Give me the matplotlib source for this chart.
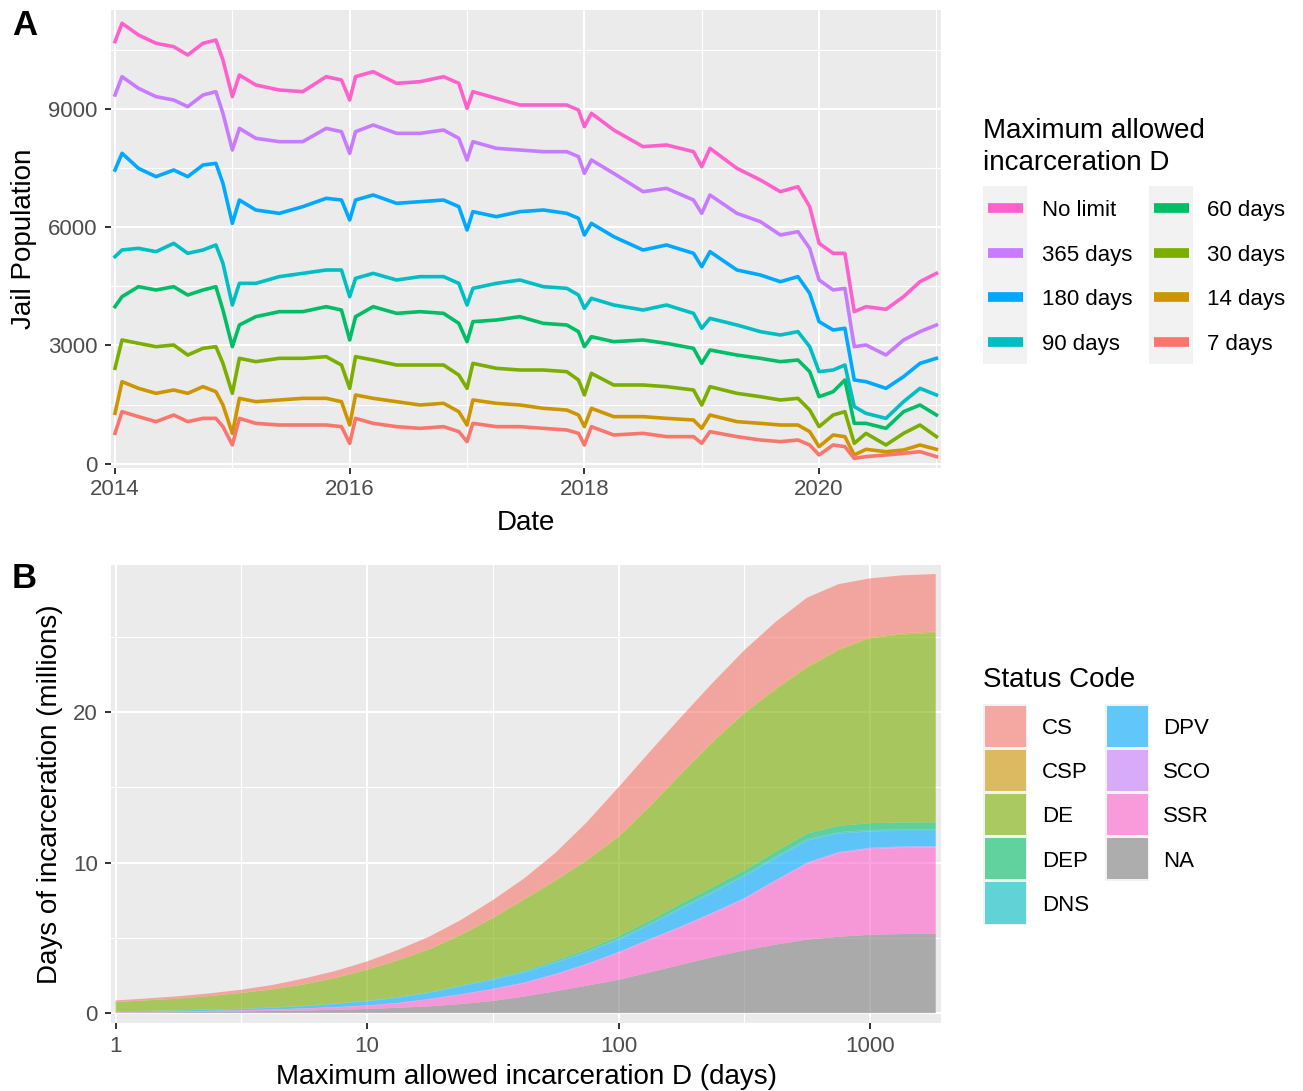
import numpy as np
import matplotlib
matplotlib.use("Agg")
import matplotlib.pyplot as plt
from matplotlib.patches import Rectangle
from matplotlib.ticker import FixedLocator, NullFormatter

plt.rcParams['font.family'] = ['Liberation Sans', 'DejaVu Sans']

# ---------------- Panel A data ----------------
year_offset = [0.00, 0.06, 0.20, 0.35, 0.50, 0.62, 0.75, 0.86, 0.92,
               1.00, 1.06, 1.20, 1.40, 1.60, 1.80, 1.93,
               2.00, 2.05, 2.20, 2.40, 2.60, 2.80, 2.93,
               3.00, 3.05, 3.25, 3.45, 3.65, 3.85, 3.95,
               4.00, 4.06, 4.25, 4.50, 4.70, 4.93,
               5.00, 5.07, 5.30, 5.50, 5.67, 5.82, 5.92,
               6.00, 6.12, 6.22, 6.30, 6.40, 6.57, 6.72, 6.86, 7.00]

pop_no_limit = [10723, 11190, 10893, 10681, 10596, 10384, 10681, 10765, 10257,
                9325, 9876, 9622, 9495, 9452, 9833, 9749,
                9240, 9833, 9961, 9664, 9706, 9833, 9664,
                9029, 9452, 9283, 9113, 9113, 9113, 8986,
                8562, 8901, 8478, 8054, 8097, 7927,
                7546, 8012, 7503, 7207, 6910, 7037, 6529,
                5597, 5343, 5343, 3860, 3987, 3919, 4241, 4622, 4834]
pop_365 = [9367, 9833, 9537, 9325, 9240, 9071, 9367, 9452, 8901,
           7969, 8520, 8266, 8181, 8181, 8520, 8435,
           7884, 8435, 8605, 8393, 8393, 8478, 8266,
           7715, 8181, 8012, 7969, 7927, 7927, 7800,
           7376, 7715, 7376, 6910, 6995, 6698,
           6359, 6826, 6359, 6148, 5809, 5893, 5470,
           4665, 4411, 4453, 2970, 3013, 2758, 3140, 3352, 3521]
pop_180 = [7461, 7885, 7503, 7292, 7461, 7292, 7588, 7630, 7122,
           6105, 6698, 6444, 6359, 6529, 6741, 6698,
           6190, 6698, 6826, 6614, 6656, 6698, 6529,
           5936, 6402, 6275, 6402, 6444, 6359, 6232,
           5809, 6105, 5766, 5427, 5555, 5343,
           5004, 5385, 4919, 4792, 4622, 4750, 4326,
           3606, 3394, 3437, 2123, 2081, 1911, 2208, 2546, 2674]
pop_90 = [5258, 5428, 5470, 5385, 5597, 5343, 5428, 5555, 5089,
          4029, 4580, 4580, 4750, 4834, 4919, 4919,
          4241, 4707, 4834, 4665, 4750, 4750, 4580,
          4029, 4453, 4580, 4665, 4495, 4453, 4283,
          3945, 4199, 4029, 3902, 4029, 3817,
          3437, 3690, 3521, 3352, 3267, 3352, 2970,
          2335, 2377, 2504, 1445, 1275, 1148, 1572, 1911, 1742]
pop_60 = [3987, 4241, 4495, 4411, 4495, 4283, 4411, 4495, 3902,
          2970, 3521, 3733, 3860, 3860, 3987, 3902,
          3140, 3733, 3987, 3817, 3860, 3817, 3563,
          3097, 3606, 3648, 3733, 3563, 3521, 3352,
          2970, 3224, 3097, 3140, 3055, 2928,
          2546, 2886, 2758, 2674, 2589, 2631, 2335,
          1699, 1826, 2123, 1021, 1021, 894, 1318, 1487, 1233]
pop_30 = [2420, 3140, 3055, 2970, 3013, 2758, 2928, 2970, 2546,
          1784, 2674, 2589, 2674, 2674, 2716, 2504,
          1911, 2716, 2631, 2504, 2504, 2504, 2250,
          1911, 2546, 2420, 2377, 2377, 2335, 2123,
          1742, 2292, 1996, 1996, 1954, 1869,
          1487, 1954, 1784, 1699, 1615, 1657, 1360,
          937, 1233, 1318, 513, 767, 471, 767, 979, 683]
pop_14 = [1276, 2081, 1911, 1784, 1869, 1784, 1954, 1826, 1488,
          767, 1657, 1572, 1615, 1657, 1657, 1572,
          979, 1742, 1657, 1572, 1488, 1530, 1318,
          979, 1615, 1530, 1488, 1403, 1360, 1233,
          937, 1403, 1191, 1191, 1148, 1106,
          894, 1233, 1064, 1021, 979, 979, 810,
          429, 725, 683, 217, 361, 301, 344, 471, 361]
pop_7 = [767, 1318, 1191, 1064, 1233, 1064, 1148, 1148, 937,
         471, 1148, 1021, 979, 979, 979, 937,
         513, 1148, 1021, 937, 894, 937, 810,
         556, 1021, 937, 937, 894, 852, 767,
         471, 937, 725, 767, 683, 683,
         513, 810, 683, 598, 556, 598, 471,
         217, 471, 429, 132, 175, 217, 259, 301, 175]

series_labels = ["No limit", "365 days", "180 days", "90 days",
                 "60 days", "30 days", "14 days", "7 days"]
series_colors = ["#FF61CC", "#C77CFF", "#00A9FF", "#00BFC4",
                 "#00BE67", "#7CAE00", "#CD9600", "#F8766D"]
series_values = [pop_no_limit, pop_365, pop_180, pop_90,
                 pop_60, pop_30, pop_14, pop_7]

year_ticks = [2014, 2016, 2018, 2020]
pop_ticks = [0, 3000, 6000, 9000]

# ---------------- Panel B data (millions of days, thickness of each status band) ----------------
max_days = [1, 1.33, 1.78, 2.37, 3.16, 4.22, 5.62, 7.5, 10, 13.3, 17.8, 23.7, 31.6, 42.2,
            56.2, 75, 100, 133, 178, 237, 316, 422, 562, 750, 1000, 1334, 1825]
days_NA = [0.04, 0.05, 0.065, 0.085, 0.11, 0.14, 0.17, 0.215, 0.27, 0.35, 0.45, 0.6, 0.8, 1.1,
           1.45, 1.82, 2.21, 2.7, 3.22, 3.72, 4.16, 4.55, 4.88, 5.07, 5.2, 5.25, 5.27]
days_SSR = [0.03, 0.035, 0.045, 0.055, 0.07, 0.09, 0.13, 0.165, 0.22, 0.30, 0.47, 0.62, 0.77, 0.88,
            1.10, 1.40, 1.78, 2.15, 2.48, 2.88, 3.39, 4.20, 5.02, 5.53, 5.68, 5.72, 5.72]
days_SCO = [0.005, 0.006, 0.007, 0.008, 0.01, 0.012, 0.015, 0.018, 0.022, 0.026, 0.03, 0.035, 0.04, 0.05,
            0.055, 0.06, 0.065, 0.07, 0.075, 0.08, 0.085, 0.09, 0.095, 0.1, 0.1, 0.1, 0.1]
days_DPV = [0.035, 0.049, 0.053, 0.072, 0.08, 0.108, 0.145, 0.202, 0.268, 0.344, 0.40, 0.525, 0.59, 0.67,
            0.745, 0.77, 0.815, 0.93, 1.175, 1.32, 1.445, 1.46, 1.455, 1.22, 1.09, 1.03, 1.01]
days_DNS = [0.005, 0.005, 0.006, 0.007, 0.008, 0.009, 0.01, 0.012, 0.015, 0.018, 0.02, 0.025, 0.03, 0.035,
            0.04, 0.05, 0.06, 0.07, 0.08, 0.085, 0.09, 0.095, 0.1, 0.1, 0.1, 0.1, 0.1]
days_DEP = [0.005, 0.006, 0.008, 0.01, 0.012, 0.015, 0.018, 0.02, 0.025, 0.03, 0.035, 0.04, 0.05, 0.07,
            0.1, 0.13, 0.17, 0.21, 0.25, 0.28, 0.3, 0.33, 0.37, 0.42, 0.45, 0.46, 0.47]
days_DE = [0.61, 0.689, 0.776, 0.893, 1.04, 1.206, 1.412, 1.698, 2.06, 2.432, 2.845, 3.355, 4.02, 4.745,
           5.31, 5.92, 6.6, 7.57, 8.62, 9.635, 10.43, 10.775, 11.03, 11.66, 12.28, 12.49, 12.6]
days_CSP = [0.005, 0.005, 0.006, 0.007, 0.008, 0.009, 0.01, 0.012, 0.015, 0.018, 0.02, 0.025, 0.03, 0.035,
            0.04, 0.045, 0.05, 0.055, 0.06, 0.065, 0.07, 0.075, 0.08, 0.08, 0.08, 0.08, 0.08]
days_CS = [0.105, 0.125, 0.154, 0.173, 0.212, 0.281, 0.39, 0.458, 0.535, 0.682, 0.83, 0.975, 1.17, 1.365,
           1.81, 2.505, 3.25, 3.595, 3.74, 3.885, 4.13, 4.425, 4.57, 4.32, 3.9, 3.85, 3.82]

status_codes = ["CS", "CSP", "DE", "DEP", "DNS", "DPV", "SCO", "SSR", "NA"]
status_colors = {"CS": "#F8766D", "CSP": "#CD9600", "DE": "#7CAE00", "DEP": "#00BE67",
                 "DNS": "#00BFC4", "DPV": "#00A9FF", "SCO": "#C77CFF", "SSR": "#FF61CC",
                 "NA": "#7F7F7F"}
status_values = {"CS": days_CS, "CSP": days_CSP, "DE": days_DE, "DEP": days_DEP,
                 "DNS": days_DNS, "DPV": days_DPV, "SCO": days_SCO, "SSR": days_SSR,
                 "NA": days_NA}
day_ticks = [1, 10, 100, 1000]
mil_ticks = [0, 10, 20]

# ---------------- figure ----------------
W, H = 1303, 1091
fig = plt.figure(figsize=(W / 100, H / 100), dpi=100)


def box(l, t, r, b):
    return [l / W, 1 - b / H, (r - l) / W, (b - t) / H]


PANEL_BG = "#EBEBEB"
TICK_COL = "#4D4D4D"


def style(ax):
    ax.set_facecolor(PANEL_BG)
    for s in ax.spines.values():
        s.set_visible(False)
    ax.grid(which='major', color='white', lw=1.5)
    ax.grid(which='minor', color='white', lw=0.8)
    ax.set_axisbelow(True)
    ax.tick_params(which='major', length=4.5, width=1.4, color='#333333',
                   labelsize=16, labelcolor=TICK_COL)
    ax.tick_params(which='minor', length=0)
    ax.tick_params(axis='y', pad=5)
    ax.tick_params(axis='x', pad=3.5)


# Panel A
axA = fig.add_axes(box(111, 10, 941, 468))
style(axA)
t_years = 2014 + np.array(year_offset)
for lab, col, vals in zip(series_labels, series_colors, series_values):
    axA.plot(t_years, vals, color=col, lw=2.6, solid_joinstyle='round', label=lab)
axA.set_xlim(2013.966, 2021.039)
axA.set_ylim(-114, 11528)
axA.set_xticks(year_ticks, [str(y) for y in year_ticks])
axA.set_xticks([2015, 2017, 2019, 2021], minor=True)
axA.set_yticks(pop_ticks, [str(v) for v in pop_ticks])
axA.set_yticks([1500, 4500, 7500, 10500], minor=True)

# Panel B
axB = fig.add_axes(box(111, 565, 941, 1023))
style(axB)
axB.set_xscale('log')
stack_order = ["NA", "SSR", "SCO", "DPV", "DNS", "DEP", "DE", "CSP", "CS"]
axB.stackplot(max_days, *[status_values[c] for c in stack_order],
              colors=[status_colors[c] for c in stack_order], alpha=0.6, lw=0)
axB.set_xlim(0.9596, 1915.6)
axB.set_ylim(-0.66, 29.77)
axB.xaxis.set_major_locator(FixedLocator(day_ticks))
axB.set_xticks(day_ticks, [str(d) for d in day_ticks])
axB.xaxis.set_minor_locator(FixedLocator([10 ** 0.5, 10 ** 1.5, 10 ** 2.5]))
axB.xaxis.set_minor_formatter(NullFormatter())
axB.set_yticks(mil_ticks, [str(v) for v in mil_ticks])
axB.set_yticks([5, 15, 25], minor=True)
axB.tick_params(which='minor', length=0)
axB.tick_params(axis='x', pad=4.5)

# Overlay for titles and legends, in pixel coordinates
ov = fig.add_axes([0, 0, 1, 1], facecolor='none')
ov.set_xlim(0, W)
ov.set_ylim(H, 0)
ov.axis('off')

TITLE_FS = 20
ov.text(12, 35, "A", fontsize=25, fontweight='bold', va='baseline')
ov.text(12, 588, "B", fontsize=25, fontweight='bold', va='baseline')
ov.text(24, 239, "Jail Population", rotation=90, fontsize=TITLE_FS, ha='center', va='center')
ov.text(50, 794, "Days of incarceration (millions)", rotation=90, fontsize=TITLE_FS,
        ha='center', va='center')
ov.text(526, 530, "Date", ha='center', va='baseline', fontsize=TITLE_FS)
ov.text(526, 1084, "Maximum allowed incarceration D (days)", ha='center', va='baseline',
        fontsize=TITLE_FS)

# Legend A
ov.text(983, 138, "Maximum allowed", fontsize=TITLE_FS, va='baseline')
ov.text(983, 170, "incarceration D", fontsize=TITLE_FS, va='baseline')
row_h = 44.5
top = 186
for i, (lab, col) in enumerate(zip(series_labels, series_colors)):
    c, r = divmod(i, 4)
    kx = [983, 1149][c]
    ky = top + r * row_h
    ov.add_patch(Rectangle((kx, ky), 44, row_h, facecolor='#F2F2F2', edgecolor='none'))
    yc = ky + row_h / 2
    ov.plot([kx + 5, kx + 40], [yc, yc], color=col, lw=7, solid_capstyle='butt')
    ov.text([1042, 1207][c], yc + 8, lab, fontsize=16, va='baseline')

# Legend B
ov.text(983, 687, "Status Code", fontsize=TITLE_FS, va='baseline')
row_h2 = 44.2
top2 = 704
for i, code in enumerate(status_codes):
    c, r = divmod(i, 5)
    kx = [983, 1105][c]
    ky = top2 + r * row_h2
    ov.add_patch(Rectangle((kx, ky), 44, row_h2, facecolor='#F2F2F2', edgecolor='none'))
    ov.add_patch(Rectangle((kx + 1.5, ky + 1.5), 41, row_h2 - 3,
                           facecolor=status_colors[code], alpha=0.6, edgecolor='none'))
    ov.text([1042, 1163][c], ky + row_h2 / 2 + 8, code, fontsize=16, va='baseline')

fig.savefig("out.png", dpi=100)
